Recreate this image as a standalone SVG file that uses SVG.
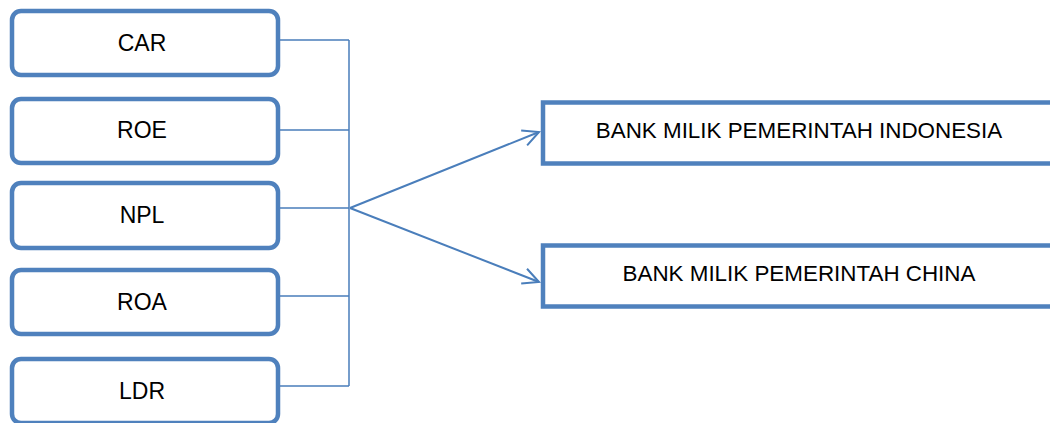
<svg xmlns="http://www.w3.org/2000/svg" width="1050" height="423" viewBox="0 0 1050 423">
<style>
.box{fill:#fff;stroke:#4f81bd;stroke-width:4.5}
.lbl{font-family:"Liberation Sans",Arial,sans-serif;font-size:23px;fill:#000;text-anchor:middle}
.big{font-size:22.4px}
.con{fill:none;stroke:#4a7ebb;stroke-width:1.5}
.arr{fill:none;stroke:#4a7ebb;stroke-width:2}
</style>
<defs>
<marker id="ah" markerUnits="userSpaceOnUse" markerWidth="20" markerHeight="20" refX="16" refY="8" orient="auto" overflow="visible">
<path d="M0,0 L16,8 L0,16" fill="none" stroke="#4a7ebb" stroke-width="2"/>
</marker>
</defs>
<rect width="1050" height="423" fill="#fff"/>
<g id="connectors">
<path class="con" d="M279,40 H349 M279,130 H349 M279,208 H349 M279,296 H349 M279,386 H349 M349,40 V386"/>
<line class="arr" x1="350" y1="208" x2="539" y2="132" marker-end="url(#ah)"/>
<line class="arr" x1="350" y1="208" x2="539" y2="282" marker-end="url(#ah)"/>
</g>
<g id="car"><rect class="box" x="12" y="11" width="266" height="64" rx="9"/><text class="lbl" x="142" y="51">CAR</text></g>
<g id="roe"><rect class="box" x="12" y="99" width="266" height="64" rx="9"/><text class="lbl" x="142" y="138">ROE</text></g>
<g id="npl"><rect class="box" x="12" y="183" width="266" height="65" rx="9"/><text class="lbl" x="142" y="223">NPL</text></g>
<g id="roa"><rect class="box" x="12" y="270" width="266" height="64" rx="9"/><text class="lbl" x="142" y="310">ROA</text></g>
<g id="ldr"><rect class="box" x="12" y="359" width="266" height="64" rx="9"/><text class="lbl" x="142" y="399">LDR</text></g>
<g id="indonesia"><rect class="box" x="543" y="102.5" width="520" height="61"/><text class="lbl big" x="799" y="138">BANK MILIK PEMERINTAH INDONESIA</text></g>
<g id="china"><rect class="box" x="543" y="245.5" width="520" height="61"/><text class="lbl big" x="799" y="281">BANK MILIK PEMERINTAH CHINA</text></g>
</svg>
